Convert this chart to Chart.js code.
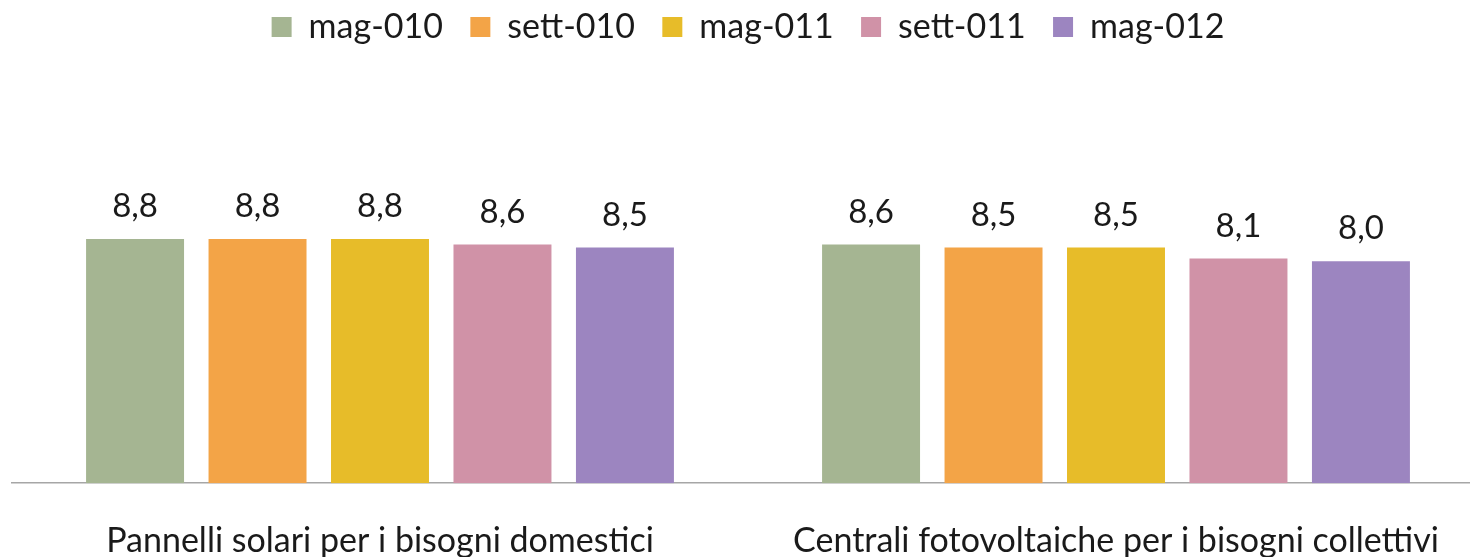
<!DOCTYPE html>
<html>
<head>
<meta charset="utf-8">
<script src="https://cdn.jsdelivr.net/npm/chart.js@4/dist/chart.umd.min.js"></script>
<style>
  html, body { margin: 0; padding: 0; background: #fff; overflow: hidden; }
  #wrap { position: absolute; left: 0; top: 0; width: 1500px; height: 598px; }
</style>
</head>
<body>
<div id="wrap"><canvas id="chart"></canvas></div>
<script>
// --- Data ---
const categories = ['Pannelli solari per i bisogni domestici', 'Centrali fotovoltaiche per i bisogni collettivi'];
const seriesNames = ['mag-010', 'sett-010', 'mag-011', 'sett-011', 'mag-012'];
const mag010 = [8.8, 8.6];
const sett010 = [8.8, 8.5];
const mag011 = [8.8, 8.5];
const sett011 = [8.6, 8.1];
const mag012 = [8.5, 8.0];
const seriesColors = ['#a5b592', '#f3a447', '#e7bc29', '#d092a7', '#9c85c0'];

const FONT = 'Lato, "Open Sans", sans-serif';
const TEXT = '#1a1a1a';

// value labels above each bar, Italian decimal comma
const valueLabels = {
  id: 'valueLabels',
  afterDatasetsDraw(chart) {
    const { ctx } = chart;
    ctx.save();
    ctx.font = '33px ' + FONT;
    ctx.fillStyle = TEXT;
    ctx.textAlign = 'center';
    ctx.textBaseline = 'bottom';
    chart.data.datasets.forEach((ds, i) => {
      const meta = chart.getDatasetMeta(i);
      meta.data.forEach((bar, j) => {
        ctx.fillText(ds.data[j].toFixed(1).replace('.', ','), bar.x, bar.y - 16);
      });
    });
    ctx.restore();
  }
};

const allSeries = [mag010, sett010, mag011, sett011, mag012];

new Chart(document.getElementById('chart'), {
  type: 'bar',
  data: {
    labels: categories,
    datasets: allSeries.map((vals, i) => ({
      label: seriesNames[i],
      data: vals,
      backgroundColor: seriesColors[i],
      borderWidth: 0,
      categoryPercentage: 0.832,
      barPercentage: 0.8
    }))
  },
  options: {
    responsive: true,
    maintainAspectRatio: false,
    animation: false,
    layout: { padding: { left: 12, right: 16, top: 0, bottom: 0 } },
    plugins: {
      legend: {
        position: 'top',
        labels: {
          font: { size: 34, family: FONT },
          color: TEXT,
          boxWidth: 20,
          boxHeight: 20,
          padding: 10,
          // extra trailing space widens the gap between legend items
          generateLabels(chart) {
            const items = Chart.defaults.plugins.legend.labels.generateLabels(chart);
            items.forEach((it, i) => {
              if (i < items.length - 1) it.text = it.text + '  ';
            });
            return items;
          }
        }
      },
      tooltip: { enabled: false }
    },
    scales: {
      x: {
        grid: { display: false, drawTicks: false },
        border: { display: true, color: '#a6a6a6', width: 1.5 },
        ticks: {
          font: { size: 34, family: FONT },
          color: TEXT,
          padding: 37,
          maxRotation: 0
        }
      },
      y: {
        display: false,
        min: 0,
        max: 15.47
      }
    }
  },
  plugins: [valueLabels]
});
</script>
</body>
</html>
